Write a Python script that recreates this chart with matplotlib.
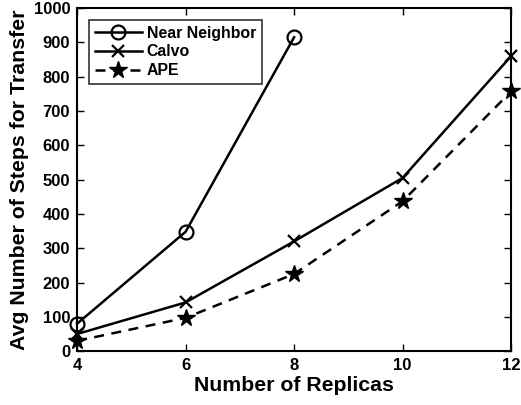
import matplotlib
matplotlib.use("Agg")
import matplotlib.pyplot as plt

plt.rcParams['font.family'] = ['Liberation Sans', 'DejaVu Sans']
plt.rcParams['font.weight'] = 'bold'

replicas_nn = [4, 6, 8]
near_neighbor = [80, 348, 915]
replicas = [4, 6, 8, 10, 12]
calvo = [50, 142, 320, 505, 860]
ape = [30, 97, 225, 437, 757]
xticks = [4, 6, 8, 10, 12]
yticks = [0, 100, 200, 300, 400, 500, 600, 700, 800, 900, 1000]

fig = plt.figure(figsize=(5.21, 4.05), dpi=100)
ax = fig.add_axes([0.148, 0.133, 0.833, 0.847])

ax.plot(replicas_nn, near_neighbor, '-', color='black', lw=1.8, marker='o',
        ms=10, mfc='none', mew=1.6, label='Near Neighbor', clip_on=False)
ax.plot(replicas, calvo, '-', color='black', lw=1.8, marker='x',
        ms=9, mew=1.6, label='Calvo', clip_on=False)
ax.plot(replicas, ape, '--', color='black', lw=1.8, marker='*',
        ms=13, mfc='black', mew=1, label='APE', clip_on=False, dashes=(4, 3))

ax.set_xlim(4, 12)
ax.set_ylim(0, 1000)
ax.set_xticks(xticks)
ax.set_yticks(yticks)
ax.tick_params(direction='in', top=True, right=True, labelsize=12, width=1, length=5, pad=5)
for lab in ax.get_xticklabels() + ax.get_yticklabels():
    lab.set_fontweight('bold')
for s in ax.spines.values():
    s.set_linewidth(1.5)

ax.set_xlabel('Number of Replicas', fontsize=15.3, fontweight='bold', labelpad=2)
ax.set_ylabel('Avg Number of Steps for Transfer', fontsize=15.3, fontweight='bold', labelpad=3)

leg = ax.legend(loc='upper left', fontsize=11.4, frameon=True, fancybox=False,
                edgecolor='black', handlelength=3.0, borderaxespad=0.75,
                labelspacing=0.25, borderpad=0.35, handletextpad=0.3)
leg.get_frame().set_linewidth(1.2)
for t in leg.get_texts():
    t.set_fontweight('bold')

fig.savefig('out.png', dpi=100)
